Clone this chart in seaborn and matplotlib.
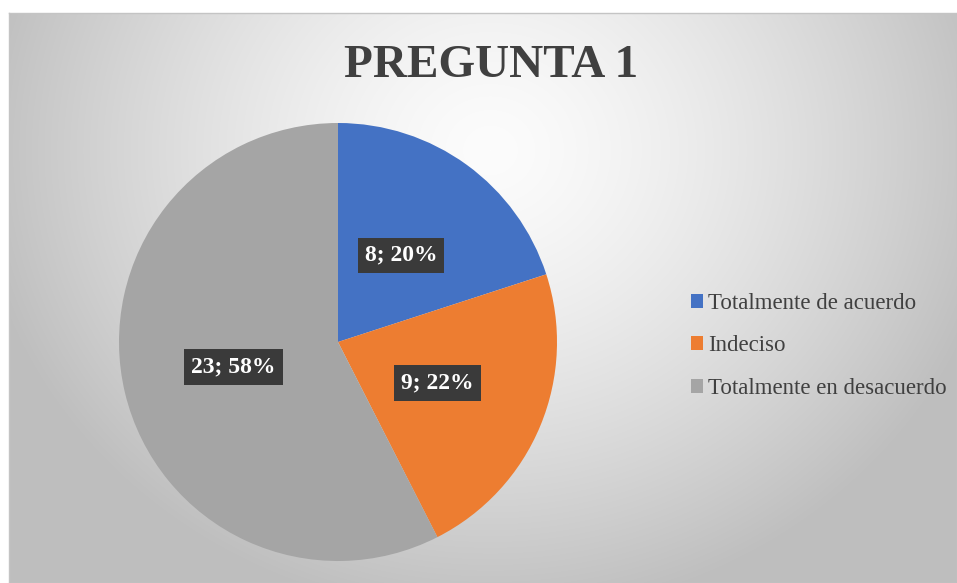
import numpy as np
import matplotlib
matplotlib.use("Agg")
import matplotlib.pyplot as plt
import seaborn as sns
from matplotlib.patches import Patch

# Data
categories = ["Totalmente de acuerdo", "Indeciso", "Totalmente en desacuerdo"]
counts = [8, 9, 23]
pct_labels = ["20%", "22%", "58%"]
colors = ["#4472C4", "#ED7D31", "#A5A5A5"]
title = "PREGUNTA 1"

sns.set_theme(style="white")
plt.rcParams["font.family"] = ["Liberation Serif", "DejaVu Serif"]

W, H = 957, 583
fig = plt.figure(figsize=(W / 100, H / 100), dpi=100)
fig.patch.set_facecolor("white")

# Chart area with radial gradient background
x0, y0 = 9, 13
bg = fig.add_axes([x0 / W, 0, (W - x0) / W, (H - y0) / H])
xx, yy = np.meshgrid(np.arange(x0, W), np.arange(y0, H))
d = np.sqrt(((xx - 490) / 520.0) ** 2 + ((yy - 150) / 470.0) ** 2)
g = np.clip(252 - 62 * d ** 1.4, 190, 255) / 255.0
bg.imshow(np.dstack([g, g, g]), aspect="auto", interpolation="bilinear")
bg.set_xticks([]); bg.set_yticks([])
for s in bg.spines.values():
    s.set_color("#c4c4c4"); s.set_linewidth(1)

# Pie
cx, cy, r = 338, 342, 219
ax = fig.add_axes([(cx - r) / W, (H - cy - r) / H, 2 * r / W, 2 * r / H])
ax.patch.set_alpha(0)
wedges, texts = ax.pie(counts, colors=colors, startangle=90, counterclock=False,
                       labels=[f"{c}; {p}" for c, p in zip(counts, pct_labels)],
                       labeldistance=0.49, radius=1.0,
                       wedgeprops=dict(linewidth=0),
                       textprops=dict(color="white", fontsize=17, fontweight="bold",
                                      ha="center", va="center"))
for t in texts:
    t.set_bbox(dict(boxstyle="square,pad=0.3", facecolor="#3a3a3a", edgecolor="none"))
ax.set_aspect("auto")
ax.set_xlim(-1, 1); ax.set_ylim(-1, 1)

# Title
fig.text(491 / W, 1 - 66 / H, title, ha="center", va="center",
         fontsize=34, fontweight="bold", color="#404040")

# Legend
handles = [Patch(facecolor=c, edgecolor="none") for c in colors]
fig.legend(handles, categories, loc="center left", bbox_to_anchor=(670 / W, 1 - 346 / H),
           frameon=False, fontsize=16.5, handlelength=0.55, handleheight=0.55,
           handletextpad=0.2, labelspacing=0.95, labelcolor="#404040")

fig.savefig("out.png", dpi=100)
